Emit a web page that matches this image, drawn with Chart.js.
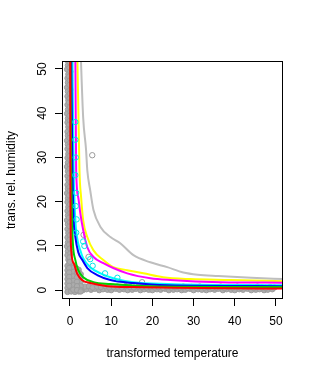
<!DOCTYPE html>
<html>
<head>
<meta charset="utf-8">
<script src="https://cdn.jsdelivr.net/npm/chart.js@4/dist/chart.umd.min.js"></script>
<style>
  html, body { margin: 0; padding: 0; background: #fff; }
  #wrap { width: 315px; height: 375px; }
</style>
</head>
<body>
<div id="wrap"><canvas id="chart" width="315" height="375"></canvas></div>
<script>
// tick values
const xTicks = [0, 10, 20, 30, 40, 50];
const yTicks = [0, 10, 20, 30, 40, 50];

// fitted curves
const greyLineX = [2.4, 2.7, 3.2, 3.9, 4.2, 4.9, 5.7, 7.4, 9.8, 12.2, 15.4, 19.5, 23.6, 27.5, 31, 36, 44, 52];
const greyLineY = [60, 51, 39, 31.7, 27.1, 22.6, 18.1, 14.3, 12.0, 10.6, 7.9, 6.3, 5.2, 4.0, 3.5, 3.2, 2.8, 2.5];

const yellowX = [1.7, 1.8, 2.3, 2.7, 3.2, 4.2, 5.7, 8.1, 10.5, 13.9, 17.8, 22.6, 29.2, 38.9, 52];
const yellowY = [60, 52, 27, 21, 15.8, 12, 9, 6.8, 5.2, 4.5, 3.8, 2.9, 2.5, 2.3, 2.0];

const magentaX = [1.2, 1.3, 1.5, 2.0, 2.5, 3.2, 4.2, 5.7, 8.1, 10.5, 13.9, 19.5, 24.3, 36.5, 52];
const magentaY = [60, 52, 27, 21, 17.4, 13.6, 9.7, 7.5, 6.1, 5.0, 3.8, 2.7, 2.3, 1.8, 1.7];

const cyanX = [0.5, 0.6, 0.9, 1.3, 1.7, 2.5, 3.2, 4.9, 7.4, 10.5, 15.4, 23.6, 52];
const cyanY = [60, 52, 27, 15.8, 12, 9, 7.2, 5.2, 3.8, 2.7, 1.8, 1.4, 1.1];

const blueX = [0.25, 0.3, 0.6, 0.9, 1.3, 2.0, 3.0, 4.2, 6.6, 9.8, 15.4, 23.6, 52];
const blueY = [60, 52, 27, 15.8, 12, 8.6, 6.8, 5.0, 3.4, 2.3, 1.6, 1.1, 0.9];

const greenX = [0.05, 0.1, 0.3, 0.5, 0.7, 1.3, 2.0, 3.2, 5.7, 9.8, 19.5, 52];
const greenY = [60, 52, 27, 15.8, 10.6, 6.8, 4.5, 2.9, 1.8, 1.4, 0.9, 0.7];

const redX = [0.0, 0.05, 0.1, 0.25, 0.9, 1.7, 2.9, 4.9, 9.1, 15.4, 52];
const redY = [60, 52, 25, 9.7, 6.1, 3.8, 2.3, 1.6, 0.9, 0.7, 0.35];

// observations (grey): dense band along the y axis
const bandColX = [
  -0.6, -0.5, -0.7, -0.4, -0.6, -0.5, -0.7, -0.5, -0.6, -0.4, -0.6, -0.5, -0.7, -0.5, -0.6, -0.4,
  -0.6, -0.5, -0.7, -0.5, -0.6, -0.4, -0.6, -0.5, -0.7, -0.5, -0.6, -0.4, -0.6, -0.5, -0.7, -0.5,
  -0.6, -0.4, -0.6, -0.5, -0.7, -0.5, -0.6, -0.4, -0.6, -0.5, -0.7, -0.5, -0.6, -0.4,
  0.0, -0.1, 0.1, -0.2, 0.0, -0.1, 0.1, 0.0, -0.1, -0.2, 0.0, 0.1, -0.1, 0.0, -0.2, 0.1,
  0.0, -0.1, 0.1, -0.2, 0.0, -0.1, 0.1, 0.0, -0.1, -0.2, 0.0, 0.1, -0.1, 0.0, -0.2, 0.1,
  0.0, -0.1, 0.1, -0.2, 0.0, -0.1, 0.1, 0.0, -0.1, -0.2, 0.0, 0.1, -0.1, 0.0
];
const bandColY = [
  51.9, 50.8, 49.9, 48.8, 47.9, 46.9, 45.8, 44.9, 43.8, 42.9, 41.9, 40.8, 39.9, 38.8, 37.9, 36.9,
  35.8, 34.9, 33.8, 32.9, 31.9, 30.8, 29.9, 28.8, 27.9, 26.9, 25.8, 24.9, 23.8, 22.9, 21.9, 20.8,
  19.9, 18.8, 17.9, 16.9, 15.8, 14.9, 13.8, 12.9, 11.9, 10.8, 9.9, 8.8, 7.9, 6.9,
  51.4, 50.3, 49.4, 48.3, 47.4, 46.4, 45.3, 44.4, 43.3, 42.4, 41.4, 40.3, 39.4, 38.3, 37.4, 36.4,
  35.3, 34.4, 33.3, 32.4, 31.4, 30.3, 29.4, 28.3, 27.4, 26.4, 25.3, 24.4, 23.3, 22.4, 21.4, 20.3,
  19.4, 18.3, 17.4, 16.4, 15.3, 14.4, 13.3, 12.4, 11.4, 10.3, 9.4, 8.3, 7.4, 6.4
];

// observations (grey): solid block in the corner
const cornerX = [
  -0.6, 0.3, 1.2, 2.1, -0.6, 0.3, 1.2, 2.1, -0.6, 0.3, 1.2, 2.1, -0.6, 0.3, 1.2, 2.1,
  -0.6, 0.3, 1.2, 2.1, -0.6, 0.3, 1.2, 2.1, -0.6, 0.3, 1.2, 2.1,
  -0.2, 0.8, 1.7, 2.6, -0.2, 0.8, 1.7, 2.6, -0.2, 0.8, 1.7, 2.6, -0.2, 0.8, 1.7, 2.6,
  -0.2, 0.8, 1.7, 2.6, -0.2, 0.8, 1.7, 2.6
];
const cornerY = [
  5.5, 5.6, 5.2, 4.6, 4.5, 4.6, 4.4, 4.0, 3.5, 3.6, 3.4, 3.2, 2.5, 2.6, 2.4, 2.3,
  1.5, 1.6, 1.4, 1.3, 0.5, 0.6, 0.4, 0.4, -0.4, -0.3, -0.4, -0.3,
  6.0, 5.1, 4.8, 3.6, 5.0, 4.1, 3.9, 2.8, 4.0, 3.1, 2.9, 1.9, 3.0, 2.1, 1.9, 0.9,
  2.0, 1.1, 0.9, 0.0, 1.0, 0.1, 0.0, -0.3
];

// observations (grey): dense band along the x axis
const baseX = [
  3.1, 4.0, 5.1, 6.0, 7.1, 8.0, 9.1, 10.0, 11.1, 12.0, 13.1, 14.0, 15.1, 16.0, 17.1, 18.0,
  19.1, 20.0, 21.1, 22.0, 23.1, 24.0, 25.1, 26.0, 27.1, 28.0, 29.1, 30.0, 31.1, 32.0, 33.1, 34.0,
  35.1, 36.0, 37.1, 38.0, 39.1, 40.0, 41.1, 42.0, 43.1, 44.0, 45.1, 46.0, 47.1, 48.0, 49.1,
  3.6, 4.6, 5.5, 6.6, 7.5, 8.6, 9.5, 10.6, 11.5, 12.6, 13.5, 14.6, 15.5, 16.6, 17.5, 18.6,
  19.5, 20.6, 21.5, 22.6, 23.5, 24.6, 25.5, 26.6, 27.5, 28.6, 29.5, 30.6, 31.5, 32.6, 33.5, 34.6,
  35.5, 36.6, 37.5, 38.6, 39.5, 40.6, 41.5, 42.6, 43.5, 44.6, 45.5, 46.6, 47.5, 48.6, 49.6
];
const baseY = [
  0.0, 0.2, 0.1, 0.3, 0.0, 0.2, 0.1, 0.0, 0.3, 0.1, 0.2, 0.0, 0.1, 0.3, 0.0, 0.2,
  0.1, 0.0, 0.2, 0.1, 0.3, 0.0, 0.1, 0.2, 0.0, 0.1, 0.3, 0.0, 0.2, 0.1, 0.0, 0.2,
  0.1, 0.3, 0.0, 0.2, 0.1, 0.0, 0.2, 0.1, 0.3, 0.0, 0.1, 0.2, 0.0, 0.1, 0.2,
  0.8, 0.9, 0.6, 0.8, 0.7, 0.9, 0.6, 0.7, 0.8, 0.6, 0.9, 0.7, 0.6, 0.8, 0.7, 0.6,
  0.8, 0.6, 0.7, 0.5, 0.8, 0.6, 0.7, 0.6, 0.8, 0.5, 0.7, 0.6, 0.8, 0.6, 0.7, 0.5,
  0.6, 0.8, 0.5, 0.7, 0.6, 0.8, 0.5, 0.6, 0.7, 0.5, 0.8, 0.6, 0.5, 0.7, 0.6
];

// isolated grey observations
const strayX = [5.4, 3.3, 4.5, 17.5];
const strayY = [30.5, 12.5, 7.5, 1.8];

// highlighted observations (cyan)
const cyanPtsX = [1.3, 1.3, 1.4, 1.3, 1.5, 1.4, 1.6, 1.5, 3.2, 3.5, 4.9, 5.5, 8.5, 11.5];
const cyanPtsY = [38, 34, 30, 26, 22, 19, 16, 13, 11, 10, 7, 5.5, 3.8, 2.8];

const toXY = (xs, ys) => xs.map((x, i) => ({ x: x, y: ys[i] }));

Chart.defaults.font.family = '"Liberation Sans", Arial, Helvetica, sans-serif';
Chart.defaults.font.size = 12;
Chart.defaults.color = '#000';

function curve(xs, ys, color, order) {
  return {
    data: toXY(xs, ys),
    showLine: true,
    borderColor: color,
    backgroundColor: color,
    borderWidth: 2,
    pointRadius: 0,
    cubicInterpolationMode: 'monotone',
    order: order
  };
}

function cloud(xs, ys, order) {
  return {
    data: toXY(xs, ys),
    pointRadius: 2.7,
    pointBorderWidth: 1,
    borderColor: '#9c9c9c',
    backgroundColor: '#acacac',
    order: order
  };
}

// box around the plot region + R style vertical tick labels
const framePlugin = {
  id: 'frame',
  afterDraw(chart) {
    const { ctx, chartArea } = chart;
    ctx.save();
    ctx.strokeStyle = '#000';
    ctx.lineWidth = 1;
    ctx.strokeRect(chartArea.left + 0.5, chartArea.top + 0.5,
      chartArea.right - chartArea.left - 1, chartArea.bottom - chartArea.top - 1);

    const yScale = chart.scales.y;
    ctx.fillStyle = '#000';
    ctx.font = '12px "Liberation Sans", Arial, Helvetica, sans-serif';
    ctx.textAlign = 'center';
    ctx.textBaseline = 'alphabetic';
    yTicks.forEach(v => {
      const py = yScale.getPixelForValue(v);
      ctx.save();
      ctx.translate(45.5, py);
      ctx.rotate(-Math.PI / 2);
      ctx.fillText(String(v), 0, 0);
      ctx.restore();
    });
    ctx.restore();
  }
};

new Chart(document.getElementById('chart'), {
  type: 'scatter',
  data: {
    datasets: [
      {
        data: toXY(cyanPtsX, cyanPtsY),
        pointRadius: 2.7,
        pointBorderWidth: 1,
        borderColor: '#00e5e5',
        backgroundColor: 'rgba(0,0,0,0)',
        order: 0
      },
      curve(redX, redY, '#ff0000', 1),
      curve(greenX, greenY, '#00d000', 2),
      curve(blueX, blueY, '#0000ff', 3),
      curve(cyanX, cyanY, '#00ffff', 4),
      curve(magentaX, magentaY, '#ff00ff', 5),
      curve(yellowX, yellowY, '#ffff00', 6),
      curve(greyLineX, greyLineY, '#bebebe', 7),
      {
        data: toXY(strayX, strayY),
        pointRadius: 2.7,
        pointBorderWidth: 1,
        borderColor: '#9a9a9a',
        backgroundColor: 'rgba(0,0,0,0)',
        order: 8
      },
      cloud(bandColX, bandColY, 9),
      cloud(cornerX, cornerY, 10),
      cloud(baseX, baseY, 11)
    ]
  },
  options: {
    responsive: false,
    animation: false,
    layout: { padding: { top: 61, right: 32, left: 0, bottom: 0 } },
    plugins: {
      legend: { display: false },
      tooltip: { enabled: false }
    },
    scales: {
      x: {
        type: 'linear',
        min: -1.94,
        max: 51.7,
        afterFit: s => { s.height = 76; },
        afterBuildTicks: s => { s.ticks = xTicks.map(v => ({ value: v })); },
        ticks: { padding: 8, includeBounds: false, maxRotation: 0 },
        grid: { drawOnChartArea: false, drawTicks: true, tickLength: 7, color: '#000', lineWidth: 1 },
        border: { display: false },
        title: { display: true, text: 'transformed temperature', padding: { top: 16, bottom: 14 } }
      },
      y: {
        type: 'linear',
        min: -2,
        max: 51.8,
        afterFit: s => { s.width = 62; },
        afterBuildTicks: s => { s.ticks = yTicks.map(v => ({ value: v })); },
        ticks: { display: false, includeBounds: false },
        grid: { drawOnChartArea: false, drawTicks: true, tickLength: 7, color: '#000', lineWidth: 1 },
        border: { display: false },
        title: { display: true, text: 'trans. rel. humidity', padding: { top: 4, bottom: 0 } }
      }
    }
  },
  plugins: [framePlugin]
});
</script>
</body>
</html>
